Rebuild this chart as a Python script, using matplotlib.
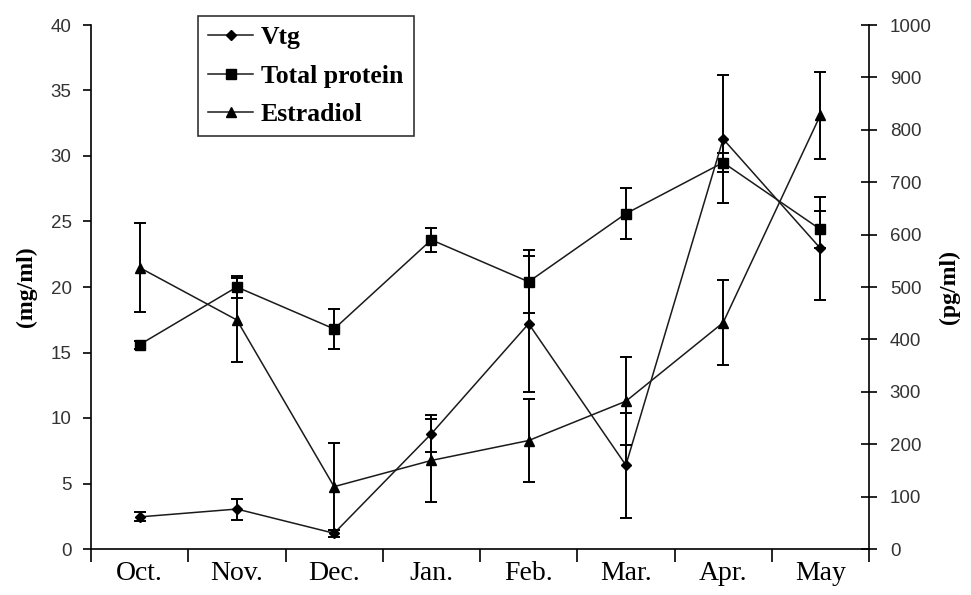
import numpy as np
import matplotlib
matplotlib.use("Agg")
import matplotlib.pyplot as plt
from matplotlib.ticker import FixedLocator
from matplotlib.lines import Line2D

months = ["Oct.", "Nov.", "Dec.", "Jan.", "Feb.", "Mar.", "Apr.", "May"]

# mg/ml (left axis)
vtg = [2.45, 3.05, 1.2, 8.8, 17.2, 6.4, 31.3, 22.95]
vtg_err = [0.35, 0.8, 0.25, 1.4, 5.2, 4.0, 4.85, 3.95]
protein = [15.6, 20.0, 16.8, 23.6, 20.4, 25.6, 29.5, 24.4]
protein_err = [0.3, 0.85, 1.55, 0.9, 2.4, 1.95, 0.7, 1.4]

# pg/ml (right axis)
estradiol = [537, 437, 119, 169, 207, 282, 432, 828]
estradiol_err = [85, 80, 83, 80, 80, 84, 81, 83]

serif = "Liberation Serif"
sans = "Liberation Sans"

fig = plt.figure(figsize=(9.71, 5.95), dpi=100)
ax1 = fig.add_axes([91 / 971, 1 - 549 / 595, 778 / 971, 524 / 595])
ax2 = ax1.twinx()

x = np.arange(len(months))
line_kw = dict(color="#1a1a1a", lw=1.1, ecolor="black", elinewidth=1.4,
               capsize=4, capthick=1.4, mfc="black", mec="black")

ax1.errorbar(x, vtg, yerr=vtg_err, marker="D", ms=5.5, **line_kw)
ax1.errorbar(x, protein, yerr=protein_err, marker="s", ms=6.5, **line_kw)
ax2.errorbar(x, estradiol, yerr=estradiol_err, marker="^", ms=7.5, **line_kw)

ax1.set_xlim(-0.5, len(months) - 0.5)
ax1.set_ylim(0, 40)
ax2.set_ylim(0, 1000)
ax1.set_yticks(np.arange(0, 41, 5))
ax2.set_yticks(np.arange(0, 1001, 100))

ax1.set_xticks(x)
ax1.set_xticklabels(months, fontfamily=serif, fontsize=20)
ax1.xaxis.set_minor_locator(FixedLocator(np.arange(-0.5, len(months), 1.0)))
ax1.tick_params(axis="x", which="major", length=0, pad=9)
ax1.tick_params(axis="x", which="minor", length=9, width=1.2, direction="out")

ax1.tick_params(axis="y", length=6, width=1.2, direction="out", pad=8,
                labelsize=13.5, labelcolor="#333333")
ax2.tick_params(axis="y", length=12, width=1.2, direction="inout", pad=9,
                labelsize=13.5, labelcolor="#333333")
for lab in ax1.get_yticklabels() + ax2.get_yticklabels():
    lab.set_fontfamily(sans)

for ax in (ax1, ax2):
    ax.spines["top"].set_visible(False)
    for s in ("left", "right", "bottom"):
        ax.spines[s].set_linewidth(1.2)
ax1.spines["right"].set_visible(False)
ax2.spines["left"].set_visible(False)
ax2.spines["bottom"].set_visible(False)

ax1.set_ylabel("(mg/ml)", fontfamily=serif, fontweight="bold", fontsize=17)
ax1.yaxis.set_label_coords(-0.0694, 0.5)
ax2.set_ylabel("(pg/ml)", fontfamily=serif, fontweight="bold", fontsize=17)
ax2.yaxis.set_label_coords(1.090, 0.5)

handles = [
    Line2D([], [], color="#1a1a1a", lw=1.1, marker="D", ms=5, mfc="black", mec="black"),
    Line2D([], [], color="#1a1a1a", lw=1.1, marker="s", ms=6.5, mfc="black", mec="black"),
    Line2D([], [], color="#1a1a1a", lw=1.1, marker="^", ms=7, mfc="black", mec="black"),
]
leg = fig.legend(handles, ["Vtg", "Total protein", "Estradiol"],
                 loc="upper left", bbox_to_anchor=(198 / 971, 1 - 16 / 595),
                 borderaxespad=0, fancybox=False, edgecolor="black",
                 prop=dict(family=serif, weight="bold", size=18.5),
                 handlelength=1.75, handletextpad=0.3, labelspacing=0.6,
                 borderpad=0.4)
leg.get_frame().set_linewidth(1.2)

fig.savefig("out.png", dpi=100)
